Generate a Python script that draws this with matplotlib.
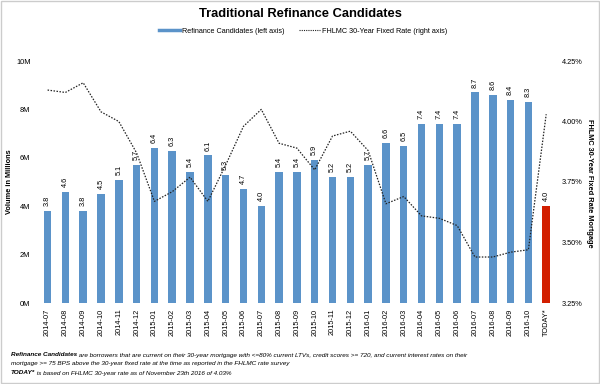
import numpy as np
import matplotlib.pyplot as plt
from matplotlib.patches import Rectangle
from matplotlib.lines import Line2D

plt.rcParams['font.family'] = ['Liberation Sans', 'DejaVu Sans']

months = ['2014-07', '2014-08', '2014-09', '2014-10', '2014-11', '2014-12',
          '2015-01', '2015-02', '2015-03', '2015-04', '2015-05', '2015-06',
          '2015-07', '2015-08', '2015-09', '2015-10', '2015-11', '2015-12',
          '2016-01', '2016-02', '2016-03', '2016-04', '2016-05', '2016-06',
          '2016-07', '2016-08', '2016-09', '2016-10', 'TODAY*']
candidates = [3.8, 4.6, 3.8, 4.5, 5.1, 5.7, 6.4, 6.3, 5.4, 6.1, 5.3, 4.7,
              4.0, 5.4, 5.4, 5.9, 5.2, 5.2, 5.7, 6.6, 6.5, 7.4, 7.4, 7.4,
              8.7, 8.6, 8.4, 8.3, 4.0]
rate = [4.13, 4.12, 4.16, 4.04, 4.00, 3.87, 3.67, 3.71, 3.77, 3.67, 3.82, 3.98,
        4.05, 3.91, 3.89, 3.80, 3.94, 3.96, 3.88, 3.66, 3.69, 3.61, 3.60, 3.57,
        3.44, 3.44, 3.46, 3.47, 4.03]

blue = '#5b93c9'
red = '#d21f00'

fig = plt.figure(figsize=(6, 3.84), dpi=100)
ax = fig.add_axes([36 / 600, 1 - 303 / 384, 520 / 600, 242 / 384])
x = np.arange(len(months))
colors = [blue] * (len(months) - 1) + [red]
ax.bar(x, candidates, width=0.42, color=colors)
for xi, v in zip(x, candidates):
    ax.text(xi, v + 0.2, f'{v:.1f}', rotation=90, ha='center', va='bottom',
            fontsize=5.3)
ax.set_xlim(-0.65, len(months) - 0.45)
ax.set_ylim(0, 10)
ax.set_yticks([0, 2, 4, 6, 8, 10])
ax.set_yticklabels(['0M', '2M', '4M', '6M', '8M', '10M'])
ax.set_xticks(x)
ax.set_xticklabels(months, rotation=90)
ax.tick_params(length=0, labelsize=5.3, pad=4)
for s in ax.spines.values():
    s.set_visible(False)

ax2 = ax.twinx()
ax2.plot(x, rate, color='#222222', linestyle=(0, (1.2, 1.2)), linewidth=0.9)
ax2.set_ylim(3.25, 4.25)
ax2.set_yticks([3.25, 3.5, 3.75, 4.0, 4.25])
ax2.set_yticklabels(['3.25%', '3.50%', '3.75%', '4.00%', '4.25%'])
ax2.tick_params(length=0, labelsize=5.3, pad=4)
for s in ax2.spines.values():
    s.set_visible(False)

fig.text(10 / 600, 1 - 182 / 384, 'Volume in Millions', rotation=90,
         ha='center', va='center', fontsize=5.3, fontweight='bold')
fig.text(589 / 600, 1 - 183 / 384, 'FHLMC 30-Year Fixed Rate Mortgage',
         rotation=270, ha='center', va='center', fontsize=5.3, fontweight='bold')

fig.text(0.5, 1 - 14 / 384, 'Traditional Refinance Candidates', ha='center',
         va='center', fontsize=9.3, fontweight='bold')
handles = [Line2D([0], [0], color=blue, linewidth=2.5),
           Line2D([0], [0], color='#222222', linestyle=(0, (1, 1)), linewidth=0.8)]
fig.legend(handles, ['Refinance Candidates (left axis)',
                     'FHLMC 30-Year Fixed Rate (right axis)'],
           loc='center', bbox_to_anchor=(303 / 600, 1 - 31 / 384), ncol=2,
           frameon=False, fontsize=5.25, handlelength=2.9, columnspacing=2.0,
           handletextpad=0.2)

fig.canvas.draw()
renderer = fig.canvas.get_renderer()
fx = 11 / 600
fs = 4.55
t1 = fig.text(fx, 1 - 355 / 384, 'Refinance Candidates', fontsize=fs,
              style='italic', fontweight='bold', va='center')
w = t1.get_window_extent(renderer).width / 600
fig.text(fx + w, 1 - 355 / 384,
         ' are borrowers that are current on their 30-year mortgage with <=80% '
         'current LTVs, credit scores >= 720, and current interest rates on their',
         fontsize=fs, style='italic', va='center')
fig.text(fx, 1 - 364 / 384,
         'mortgage >= 75 BPS above the 30-year fixed rate at the time as reported '
         'in the FHLMC rate survey', fontsize=fs, style='italic', va='center')
t2 = fig.text(fx, 1 - 373 / 384, 'TODAY*', fontsize=fs, style='italic',
              fontweight='bold', va='center')
w2 = t2.get_window_extent(renderer).width / 600
fig.text(fx + w2, 1 - 373 / 384,
         ' is based on FHLMC 30-year rate as of November 23th 2016 of 4.03%',
         fontsize=fs, style='italic', va='center')

fig.patches.append(Rectangle((0.002, 0.003), 0.996, 0.994,
                             transform=fig.transFigure, fill=False,
                             edgecolor='#cccccc', linewidth=1))

fig.savefig('out.png', dpi=100)
